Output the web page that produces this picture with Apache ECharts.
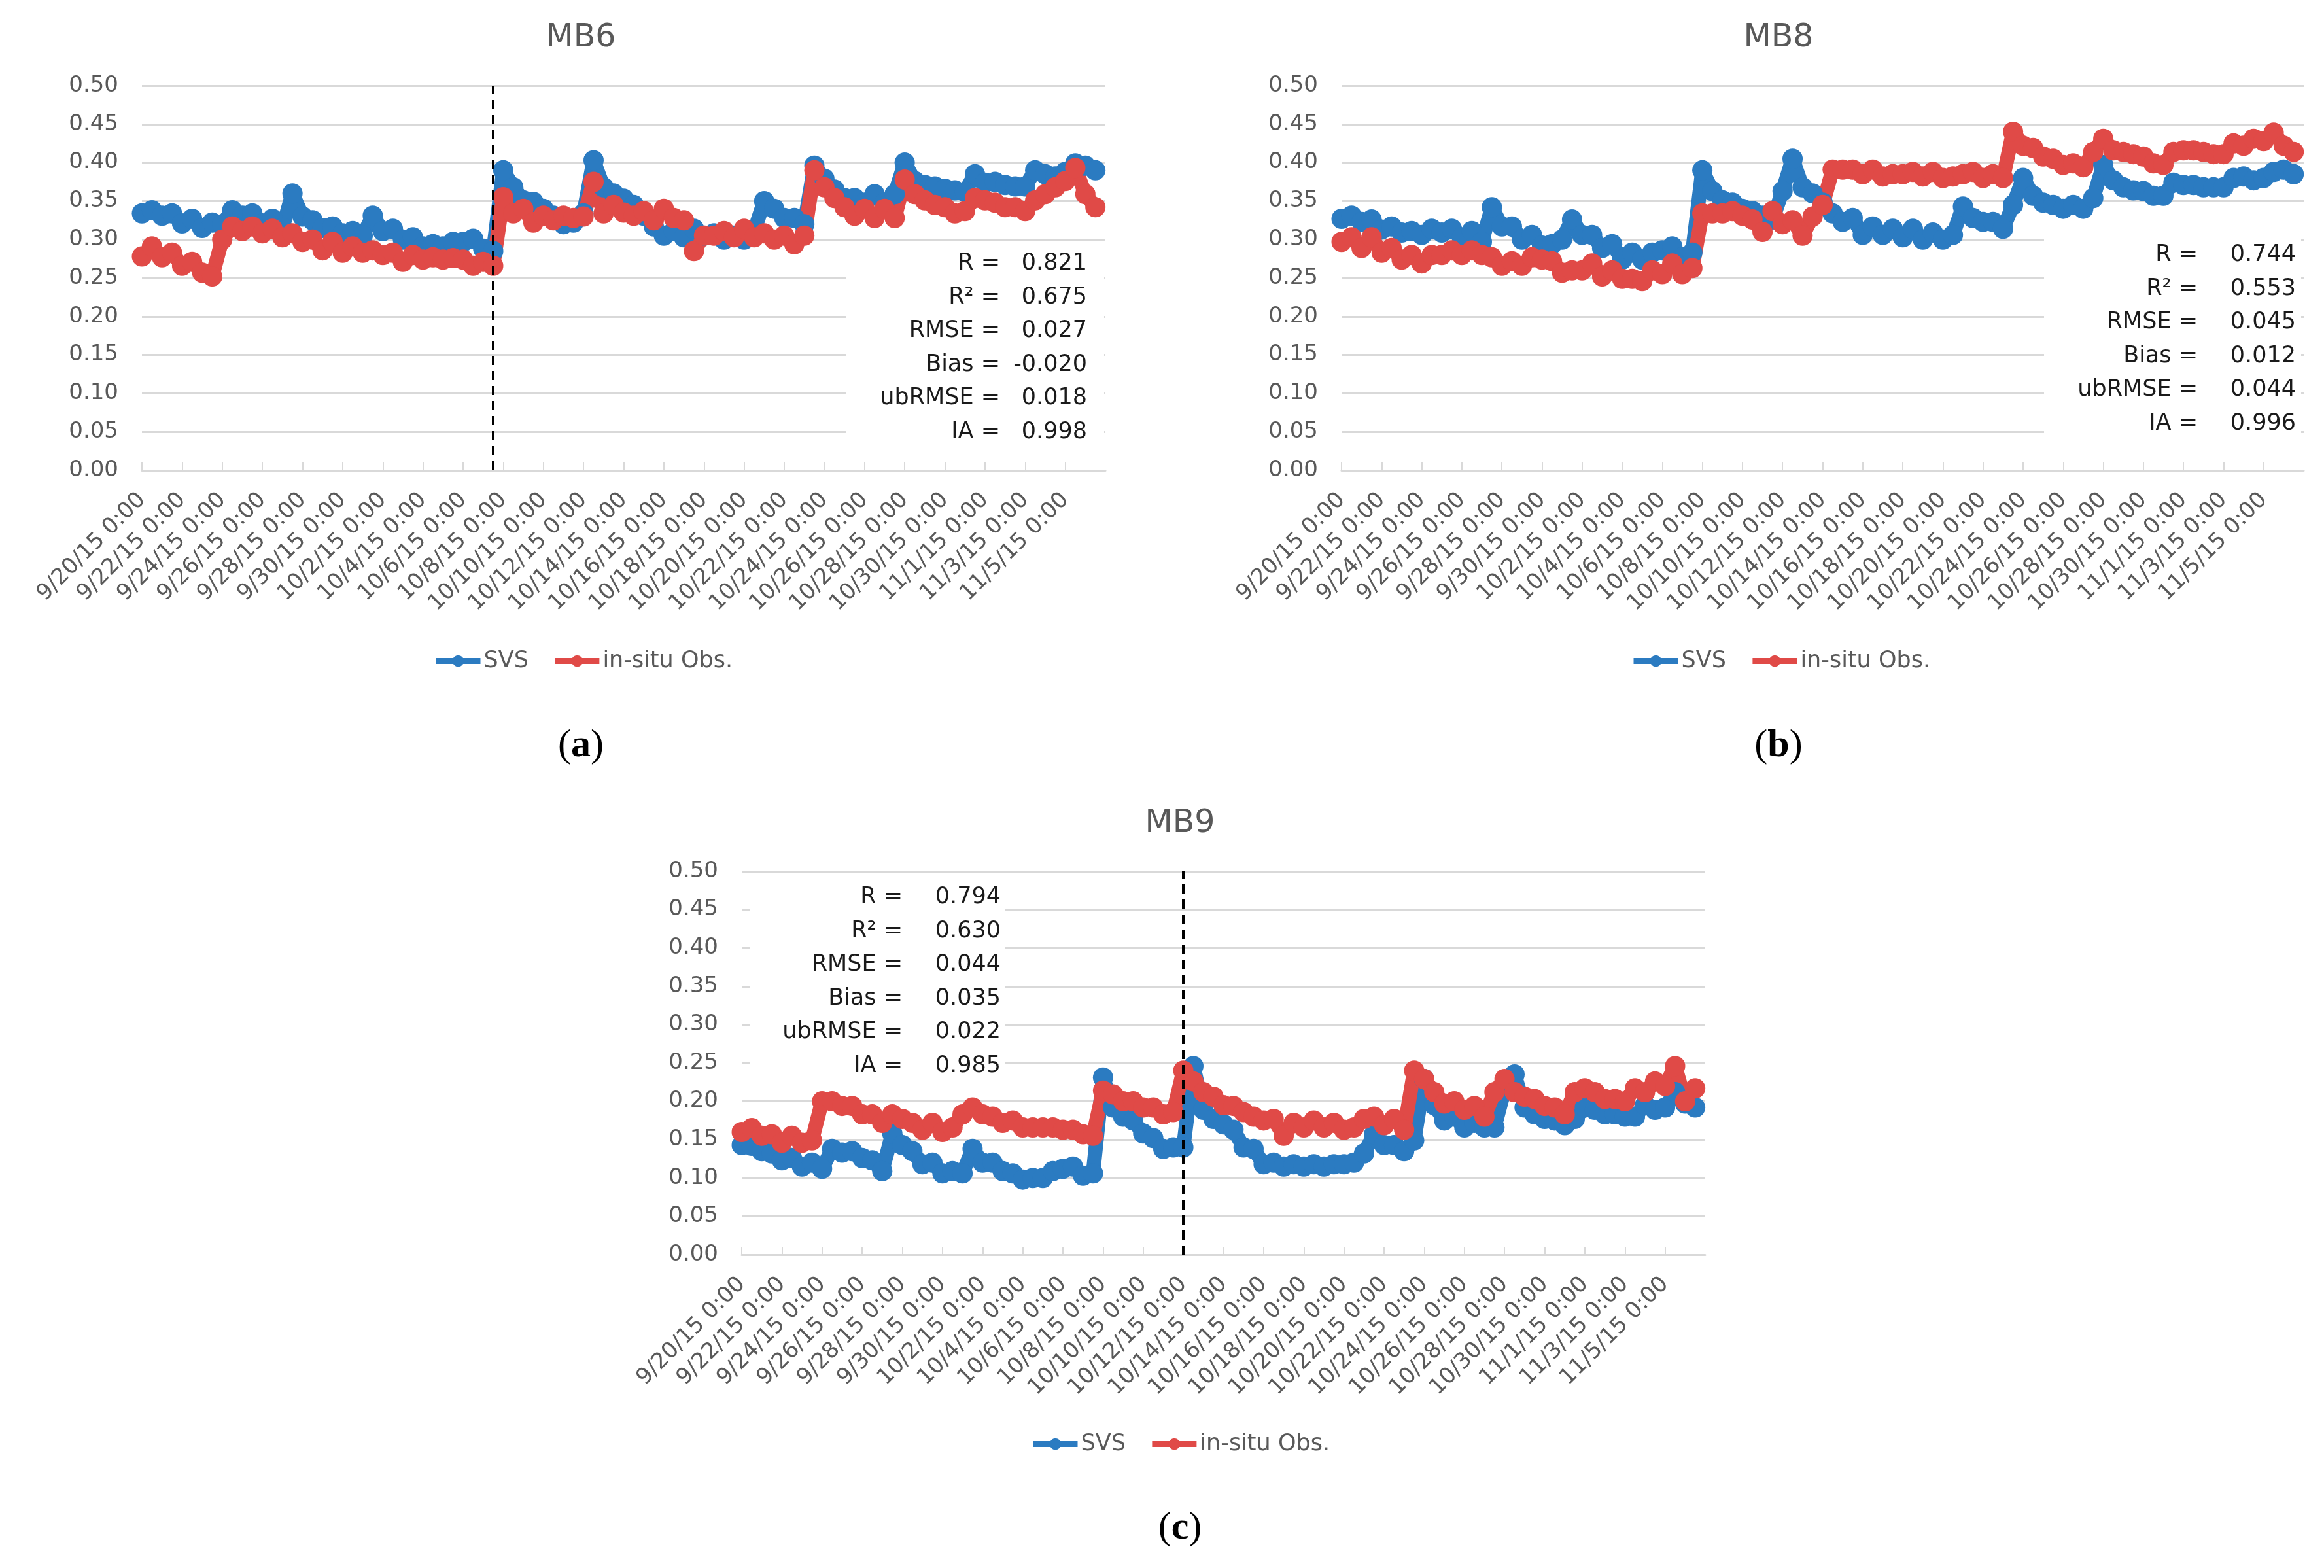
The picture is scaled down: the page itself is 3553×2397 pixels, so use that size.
<!DOCTYPE html>
<html>
<head>
<meta charset="utf-8">
<title>MB6 MB8 MB9</title>
<script src="https://cdn.jsdelivr.net/npm/echarts@6/dist/echarts.min.js"></script>
<style>
  html, body { margin: 0; padding: 0; background: #fff; }
  #main { width: 3553px; height: 2397px; }
</style>
</head>
<body>
<div id="main"></div>
<script>
// soil moisture, one value every 12 h from 9/20/15 0:00
var mb6Svs = [0.334,0.338,0.331,0.334,0.321,0.327,0.315,0.322,0.320,0.338,0.331,0.334,0.321,0.327,0.315,0.360,
  0.330,0.325,0.315,0.317,0.308,0.311,0.305,0.331,0.311,0.314,0.300,0.303,0.291,0.294,0.291,0.297,
  0.297,0.301,0.288,0.285,0.390,0.368,0.351,0.349,0.340,0.331,0.320,0.322,0.334,0.403,0.368,0.360,
  0.353,0.345,0.331,0.317,0.305,0.311,0.303,0.314,0.305,0.308,0.300,0.305,0.300,0.311,0.350,0.340,
  0.328,0.328,0.320,0.396,0.379,0.365,0.354,0.354,0.348,0.359,0.348,0.359,0.400,0.376,0.371,0.369,
  0.366,0.364,0.362,0.385,0.374,0.375,0.371,0.369,0.369,0.390,0.385,0.382,0.388,0.399,0.396,0.390];
var mb6Obs = [0.278,0.291,0.277,0.283,0.266,0.271,0.257,0.252,0.300,0.317,0.311,0.317,0.308,0.314,0.303,0.308,
  0.297,0.300,0.286,0.297,0.283,0.291,0.283,0.286,0.280,0.283,0.271,0.280,0.274,0.277,0.274,0.276,
  0.274,0.266,0.271,0.266,0.355,0.334,0.340,0.322,0.331,0.325,0.331,0.328,0.330,0.375,0.334,0.345,
  0.335,0.331,0.337,0.325,0.340,0.328,0.325,0.285,0.305,0.305,0.311,0.303,0.314,0.303,0.308,0.300,
  0.305,0.294,0.305,0.390,0.368,0.354,0.342,0.331,0.340,0.328,0.340,0.328,0.378,0.359,0.351,0.345,
  0.342,0.334,0.337,0.354,0.351,0.348,0.342,0.342,0.337,0.351,0.359,0.368,0.376,0.393,0.359,0.342];

var mb8Svs = [0.327,0.331,0.323,0.326,0.313,0.317,0.309,0.311,0.306,0.314,0.309,0.314,0.303,0.311,0.297,0.342,
  0.317,0.317,0.300,0.306,0.292,0.294,0.300,0.326,0.306,0.306,0.289,0.294,0.274,0.283,0.274,0.283,
  0.286,0.291,0.277,0.283,0.390,0.363,0.351,0.348,0.340,0.337,0.331,0.326,0.363,0.405,0.368,0.360,
  0.348,0.334,0.323,0.328,0.306,0.317,0.306,0.314,0.303,0.314,0.300,0.309,0.300,0.306,0.343,0.328,
  0.323,0.323,0.314,0.345,0.380,0.357,0.348,0.345,0.340,0.345,0.340,0.354,0.397,0.377,0.368,0.364,
  0.363,0.357,0.357,0.374,0.371,0.371,0.368,0.368,0.368,0.380,0.382,0.377,0.380,0.388,0.391,0.385];
var mb8Obs = [0.297,0.303,0.289,0.303,0.283,0.289,0.274,0.280,0.269,0.280,0.280,0.286,0.280,0.286,0.280,0.277,
  0.266,0.272,0.266,0.277,0.274,0.272,0.257,0.260,0.260,0.269,0.252,0.260,0.249,0.249,0.246,0.260,
  0.255,0.269,0.255,0.263,0.334,0.334,0.334,0.337,0.331,0.326,0.310,0.337,0.320,0.325,0.305,0.330,
  0.345,0.391,0.391,0.391,0.385,0.391,0.382,0.385,0.385,0.388,0.382,0.388,0.380,0.382,0.385,0.388,
  0.380,0.385,0.380,0.440,0.422,0.419,0.408,0.405,0.397,0.399,0.394,0.414,0.431,0.416,0.414,0.411,
  0.408,0.399,0.397,0.414,0.416,0.416,0.414,0.411,0.411,0.425,0.422,0.431,0.428,0.439,0.422,0.414];

var mb9Svs = [0.143,0.142,0.135,0.132,0.123,0.126,0.115,0.120,0.112,0.138,0.133,0.135,0.126,0.123,0.109,0.158,
  0.143,0.135,0.118,0.120,0.106,0.109,0.106,0.138,0.120,0.120,0.109,0.106,0.098,0.100,0.100,0.109,
  0.112,0.115,0.103,0.106,0.231,0.192,0.180,0.175,0.158,0.152,0.138,0.140,0.140,0.246,0.189,0.177,
  0.170,0.163,0.140,0.138,0.118,0.120,0.115,0.118,0.115,0.118,0.115,0.118,0.118,0.120,0.132,0.157,
  0.143,0.143,0.135,0.149,0.229,0.195,0.175,0.180,0.166,0.172,0.166,0.166,0.215,0.235,0.192,0.183,
  0.177,0.175,0.169,0.177,0.192,0.189,0.183,0.183,0.180,0.180,0.195,0.189,0.192,0.212,0.197,0.192];
var mb9Obs = [0.160,0.165,0.155,0.157,0.146,0.155,0.146,0.149,0.200,0.200,0.194,0.194,0.183,0.183,0.172,0.183,
  0.177,0.172,0.163,0.172,0.160,0.166,0.183,0.192,0.183,0.180,0.172,0.175,0.166,0.166,0.166,0.166,
  0.163,0.163,0.157,0.155,0.214,0.209,0.200,0.200,0.192,0.192,0.183,0.186,0.240,0.226,0.212,0.206,
  0.195,0.194,0.186,0.180,0.175,0.177,0.155,0.172,0.166,0.175,0.166,0.172,0.163,0.166,0.177,0.180,
  0.169,0.177,0.163,0.240,0.229,0.212,0.197,0.200,0.189,0.194,0.180,0.212,0.229,0.212,0.206,0.203,
  0.194,0.192,0.183,0.212,0.217,0.212,0.203,0.203,0.200,0.217,0.212,0.226,0.220,0.246,0.200,0.217];

// fit statistics shown in each panel
var statNames = ['R =', 'R\u00b2 =', 'RMSE =', 'Bias =', 'ubRMSE =', 'IA ='];
var mb6Stats = ['0.821', '0.675', '0.027', '-0.020', '0.018', '0.998'];
var mb8Stats = ['0.744', '0.553', '0.045', '0.012', '0.044', '0.996'];
var mb9Stats = ['0.794', '0.630', '0.044', '0.035', '0.022', '0.985'];

var seriesNames = ['SVS', 'in-situ Obs.'];

// category labels, 12 h apart (the last one is empty room at the right end)
var cats = [];
for (var i = 0; i < 97; i++) {
  var t = new Date(2015, 8, 20 + Math.floor(i / 2), (i % 2) * 12);
  cats.push((t.getMonth() + 1) + '/' + t.getDate() + '/15 ' + t.getHours() + ':00');
}

var FONT = 'DejaVu Sans';
var GREY = '#595959';
var BLUE = '#2b7bc1';
var RED = '#e04a47';

// label and tick every 2 days, up to 11/5
function everyTwoDays(idx) { return idx % 4 === 0 && idx < 96; }

function xAx(g) {
  return {
    type: 'category', gridIndex: g, data: cats, boundaryGap: false,
    axisLine: { lineStyle: { color: '#d9d9d9', width: 3 } },
    axisTick: { inside: true, length: 12, interval: everyTwoDays, lineStyle: { color: '#d9d9d9', width: 2 } },
    axisLabel: { interval: everyTwoDays, rotate: 45, margin: 40, fontSize: 34, color: GREY, fontFamily: FONT },
    splitLine: { show: false }
  };
}
function yAx(g) {
  return {
    type: 'value', gridIndex: g, min: 0, max: 0.5, interval: 0.05,
    axisLine: { show: false }, axisTick: { show: false },
    splitLine: { lineStyle: { color: '#d9d9d9', width: 3 } },
    axisLabel: { margin: 36, fontSize: 34, color: GREY, fontFamily: FONT,
      formatter: function (v) { return v.toFixed(2); } }
  };
}
function line(g, name, data, color, cut) {
  var s = {
    name: name, type: 'line', xAxisIndex: g, yAxisIndex: g, data: data,
    symbol: 'circle', symbolSize: 31, showAllSymbol: true,
    itemStyle: { color: color }, lineStyle: { color: color, width: 22 }
  };
  if (cut != null) {
    // dashed vertical separator
    s.markLine = {
      silent: true, symbol: ['none', 'none'], label: { show: false },
      lineStyle: { color: '#000', type: [14, 9], width: 4 },
      data: [{ xAxis: cut }]
    };
  }
  return s;
}

var graphics = [];
function txt(x, y, text, size, color, align, font) {
  graphics.push({
    type: 'text', x: x, y: y, z: 60,
    style: { text: text, fill: color, fontSize: size, fontFamily: font || FONT,
      textAlign: align, textVerticalAlign: 'middle' }
  });
}
function statBox(bx, by, bw, bh, labelX, valueX, y0, vals) {
  graphics.push({ type: 'rect', z: 50, shape: { x: bx, y: by, width: bw, height: bh },
    style: { fill: '#fff' } });
  for (var k = 0; k < statNames.length; k++) {
    txt(labelX, y0 + k * 51.6, statNames[k], 35, '#1a1a1a', 'right');
    txt(valueX, y0 + k * 51.6, vals[k], 35, '#1a1a1a', 'right');
  }
}
function panelTag(x, y, letter) {
  graphics.push({
    type: 'text', x: x, y: y, z: 60,
    style: { text: '(' + '{b|' + letter + '}' + ')', fill: '#000', fontSize: 60,
      fontFamily: 'Liberation Serif', textAlign: 'center', textVerticalAlign: 'middle',
      rich: { b: { fontWeight: 'bold', fontSize: 60, fontFamily: 'Liberation Serif', fill: '#000' } } }
  });
}

txt(888, 58, 'MB6', 49, GREY, 'center');
txt(2719, 58, 'MB8', 49, GREY, 'center');
txt(1804, 1259, 'MB9', 49, GREY, 'center');

statBox(1293, 375, 395, 330, 1529, 1662, 403, mb6Stats);
statBox(3125, 350, 393, 355, 3360, 3510, 390, mb8Stats);
statBox(1146, 1340, 390, 320, 1380, 1530, 1372, mb9Stats);

panelTag(888, 1140, 'a');
panelTag(2719, 1140, 'b');
panelTag(1804, 2336, 'c');

function lgd(left, top) {
  return {
    left: left, top: top, data: seriesNames, itemWidth: 68, itemHeight: 22, itemGap: 36,
    lineStyle: { width: 9 },
    textStyle: { fontSize: 35, color: GREY, fontFamily: FONT }
  };
}

var myChart = echarts.init(document.getElementById('main'));
var option = {
  animation: false,
  backgroundColor: '#fff',
  grid: [
    { left: 217, top: 131, width: 1473, height: 588, outerBoundsMode: 'none' },
    { left: 2051, top: 131, width: 1471, height: 588, outerBoundsMode: 'none' },
    { left: 1134, top: 1332, width: 1473, height: 586, outerBoundsMode: 'none' }
  ],
  xAxis: [xAx(0), xAx(1), xAx(2)],
  yAxis: [yAx(0), yAx(1), yAx(2)],
  legend: [lgd(657, 988), lgd(2488, 988), lgd(1570, 2185)],
  series: [
    line(0, seriesNames[0], mb6Svs, BLUE, 35),
    line(0, seriesNames[1], mb6Obs, RED),
    line(1, seriesNames[0], mb8Svs, BLUE),
    line(1, seriesNames[1], mb8Obs, RED),
    line(2, seriesNames[0], mb9Svs, BLUE, 44),
    line(2, seriesNames[1], mb9Obs, RED)
  ],
  graphic: graphics
};
myChart.setOption(option);
</script>
</body>
</html>
